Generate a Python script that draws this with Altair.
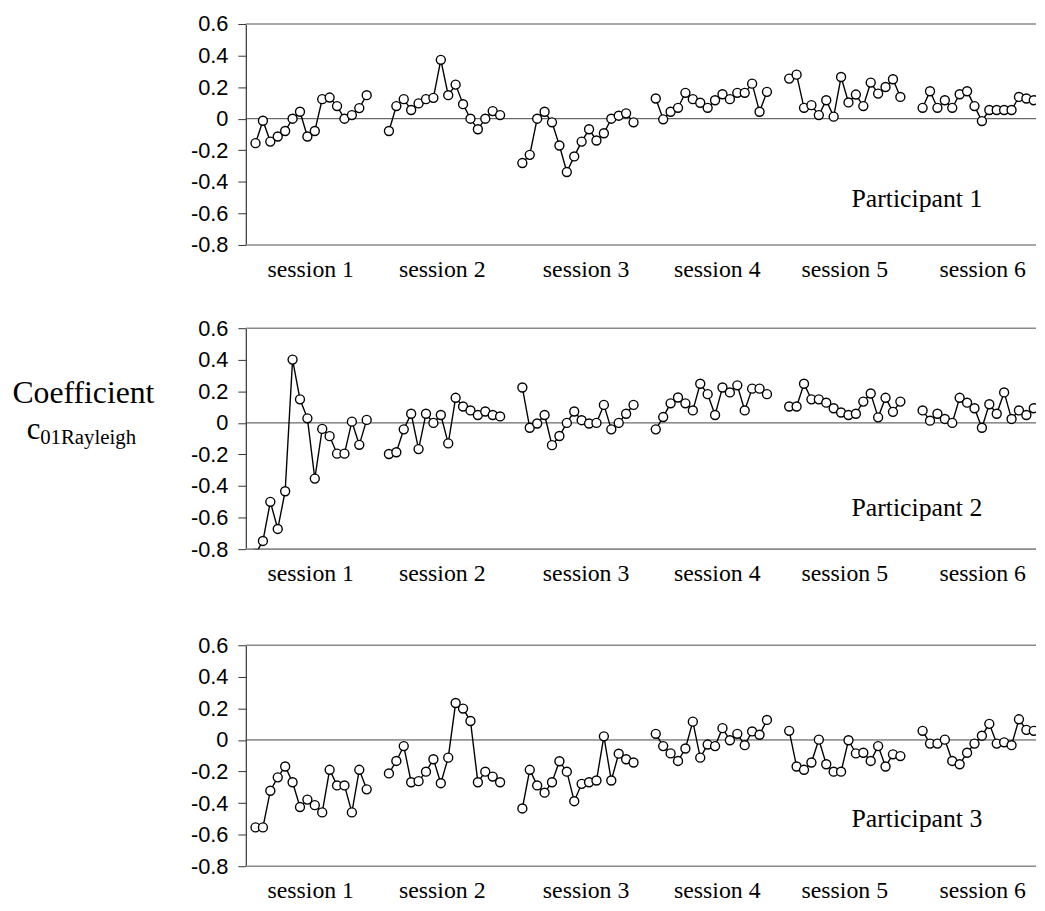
import altair as alt
import pandas as pd

# ---- data ----
participants = ["Participant 1", "Participant 2", "Participant 3"]
session_labels = ["session 1", "session 2", "session 3", "session 4", "session 5", "session 6"]
session_label_pos = [7.45, 25.2, 44.6, 62.3, 79.5, 98.1]
y_ticks = [-0.8, -0.6, -0.4, -0.2, 0.0, 0.2, 0.4, 0.6]

p1 = [
    [-0.155, -0.013, -0.145, -0.113, -0.078, 0.0, 0.044, -0.113, -0.078, 0.124, 0.134, 0.080, 0.0, 0.023, 0.067, 0.149],
    [-0.078, 0.080, 0.124, 0.055, 0.097, 0.124, 0.132, 0.373, 0.149, 0.216, 0.092, 0.0, -0.067, 0.0, 0.048, 0.023],
    [-0.281, -0.229, 0.0, 0.044, -0.023, -0.170, -0.338, -0.239, -0.145, -0.067, -0.138, -0.092, 0.0, 0.019, 0.034, -0.023],
    [0.128, -0.004, 0.044, 0.069, 0.164, 0.124, 0.101, 0.069, 0.117, 0.155, 0.124, 0.164, 0.164, 0.222, 0.044, 0.170],
    [0.254, 0.279, 0.069, 0.086, 0.023, 0.117, 0.013, 0.264, 0.103, 0.153, 0.080, 0.229, 0.159, 0.201, 0.250, 0.138],
    [0.069, 0.174, 0.069, 0.117, 0.069, 0.155, 0.174, 0.080, -0.015, 0.055, 0.055, 0.055, 0.055, 0.138, 0.128, 0.117],
]
p2 = [
    [-0.83, -0.748, -0.5, -0.672, -0.433, 0.401, 0.149, 0.029, -0.353, -0.038, -0.084, -0.195, -0.195, 0.008, -0.139, 0.019],
    [-0.197, -0.186, -0.041, 0.058, -0.166, 0.058, 0.0, 0.050, -0.130, 0.159, 0.104, 0.079, 0.050, 0.072, 0.050, 0.041],
    [0.224, -0.031, -0.004, 0.050, -0.141, -0.083, 0.0, 0.072, 0.017, -0.004, 0.0, 0.114, -0.041, 0.0, 0.058, 0.114],
    [-0.041, 0.037, 0.124, 0.161, 0.124, 0.079, 0.248, 0.182, 0.050, 0.224, 0.193, 0.238, 0.079, 0.217, 0.217, 0.182],
    [0.104, 0.104, 0.248, 0.149, 0.149, 0.128, 0.093, 0.066, 0.050, 0.058, 0.135, 0.186, 0.035, 0.159, 0.070, 0.135],
    [0.079, 0.014, 0.058, 0.025, 0.0, 0.159, 0.128, 0.093, -0.031, 0.118, 0.058, 0.193, 0.025, 0.079, 0.050, 0.093],
]
p3 = [
    [-0.554, -0.554, -0.322, -0.237, -0.168, -0.268, -0.425, -0.378, -0.413, -0.459, -0.189, -0.288, -0.288, -0.459, -0.189, -0.313],
    [-0.212, -0.133, -0.039, -0.268, -0.261, -0.201, -0.122, -0.274, -0.112, 0.234, 0.199, 0.120, -0.268, -0.201, -0.232, -0.268],
    [-0.434, -0.189, -0.288, -0.334, -0.268, -0.135, -0.201, -0.388, -0.278, -0.268, -0.257, 0.023, -0.257, -0.087, -0.122, -0.143],
    [0.039, -0.039, -0.085, -0.133, -0.054, 0.116, -0.112, -0.029, -0.039, 0.075, -0.002, 0.039, -0.033, 0.054, 0.033, 0.127],
    [0.058, -0.168, -0.189, -0.143, 0.002, -0.154, -0.201, -0.201, -0.002, -0.085, -0.081, -0.133, -0.039, -0.168, -0.091, -0.102],
    [0.058, -0.023, -0.023, 0.002, -0.133, -0.154, -0.081, -0.023, 0.027, 0.102, -0.023, -0.015, -0.033, 0.131, 0.064, 0.058],
]
participant_label_x = 80.4
participant_label_y = [-0.56, -0.59, -0.55]

# ---- layout constants ----
W = 797.5
H = 223
SLOTS = 18
XDOM = [-1.31, 105.3]
SERIF = "Liberation Serif"
SANS = "Liberation Sans"

xscale = alt.Scale(domain=XDOM, nice=False, zero=False)
yscale = alt.Scale(domain=[-0.8, 0.6], nice=False, zero=False)

label_expr = ("datum.value == 0 ? '0' : (datum.value < 0 ? '-' : '') + "
              "format(abs(datum.value), '.1f')")
yaxis = alt.Axis(values=y_ticks, labelExpr=label_expr, labelFont=SANS,
                 labelFontSize=22, labelColor="black", tickColor="#333",
                 tickSize=8, tickWidth=1, domainColor="#333", domainWidth=1.2,
                 labelPadding=10, grid=False, title=None, labelOverlap=False)


def Y(field):
    return alt.Y(field, scale=yscale, axis=yaxis)


def X(field):
    return alt.X(field, scale=xscale, axis=None)


def panel(series, k, with_title=False):
    rows = []
    for s, vals in enumerate(series):
        for i, v in enumerate(vals):
            rows.append({"idx": s * SLOTS + i, "v": v, "session": s})
    df = pd.DataFrame(rows)

    border = alt.Chart(pd.DataFrame({"y": [0.6, -0.8]})).mark_rule(
        color="#8a8a8a", strokeWidth=1.6).encode(y=Y("y:Q"))
    zero = alt.Chart(pd.DataFrame({"y": [0.0]})).mark_rule(
        color="#444", strokeWidth=1).encode(y=Y("y:Q"))

    base = alt.Chart(df).encode(x=X("idx:Q"), y=Y("v:Q"), detail="session:N")
    line = base.mark_line(color="black", strokeWidth=1.4, clip=True)
    pts = base.mark_circle(size=82, fill="white", stroke="black",
                           strokeWidth=1.4, opacity=1, clip=True)

    sess = alt.Chart(pd.DataFrame({"pos": session_label_pos, "t": session_labels})).mark_text(
        font=SERIF, fontSize=24, color="black", align="center", baseline="alphabetic"
    ).encode(x=X("pos:Q"), y=alt.value(H + 32), text="t:N")

    part = alt.Chart(pd.DataFrame({"x": [participant_label_x], "y": [participant_label_y[k]],
                                   "t": [participants[k]]})).mark_text(
        font=SERIF, fontSize=26, color="black", align="left", baseline="alphabetic"
    ).encode(x=X("x:Q"), y=Y("y:Q"), text="t:N")

    layers = [border, zero, line, pts, sess, part]
    if with_title:
        t1 = alt.Chart(pd.DataFrame({"t": ["Coefficient"]})).mark_text(
            font=SERIF, fontSize=32, color="black", align="left", baseline="alphabetic"
        ).encode(x=alt.value(-235.5), y=alt.value(75.5), text="t:N")
        t2 = alt.Chart(pd.DataFrame({"t": ["c"]})).mark_text(
            font=SERIF, fontSize=31, color="black", align="left", baseline="alphabetic"
        ).encode(x=alt.value(-221), y=alt.value(111.5), text="t:N")
        t3 = alt.Chart(pd.DataFrame({"t": ["01Rayleigh"]})).mark_text(
            font=SERIF, fontSize=21, color="black", align="left", baseline="alphabetic"
        ).encode(x=alt.value(-207.5), y=alt.value(116.5), text="t:N")
        layers += [t1, t2, t3]
    return alt.layer(*layers).properties(width=W, height=H)


def spacer(h):
    return alt.Chart(pd.DataFrame({"z": [0]})).mark_point(opacity=0).encode(
        x=alt.value(0), y=alt.value(0)).properties(width=W, height=h)


chart = alt.vconcat(
    panel(p1, 0), spacer(84), panel(p2, 1, with_title=True), spacer(97), panel(p3, 2),
    spacing=0, bounds="flush",
).properties(
    padding={"left": 4, "top": 1, "right": 0, "bottom": 0}
).configure_view(strokeWidth=0)

chart.save("out.html", embed_options={"renderer": "svg", "actions": False})
